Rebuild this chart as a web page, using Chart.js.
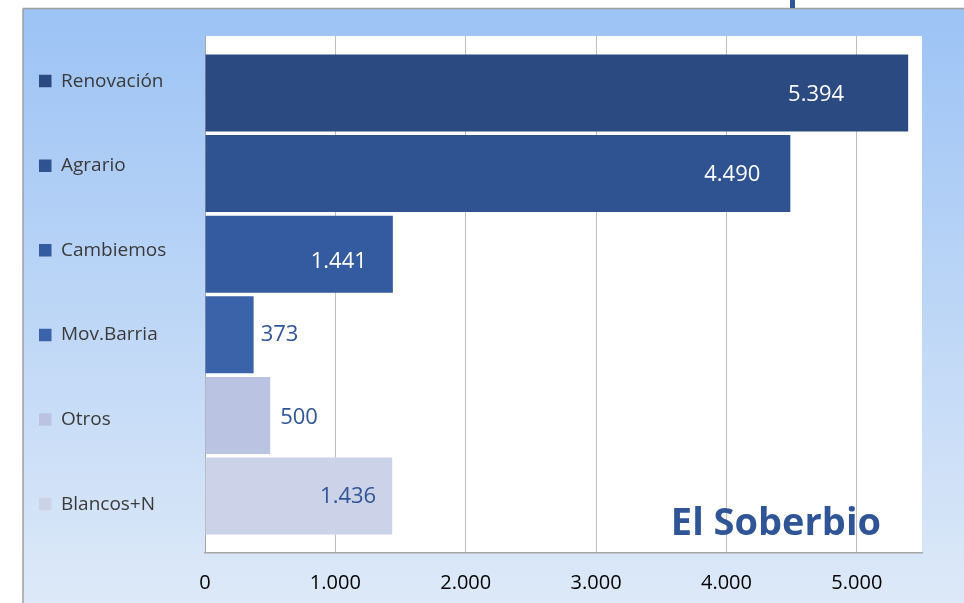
<!DOCTYPE html>
<html><head><meta charset="utf-8">
<script src="https://cdn.jsdelivr.net/npm/chart.js@4.4.1/dist/chart.umd.min.js"></script>
<style>html,body{margin:0;padding:0;background:#fff;overflow:hidden}#wrap{width:964px;height:603px;position:relative}</style>
</head><body><div id="wrap"><canvas id="c"></canvas></div>
<script>
// ---- data ----
const categories = ['Renovación', 'Agrario', 'Cambiemos', 'Mov.Barria', 'Otros', 'Blancos+N'];
const votes = [5394, 4490, 1441, 373, 500, 1436];
const xTickValues = [0, 1000, 2000, 3000, 4000, 5000];
const chartTitle = 'El Soberbio';

// ---- styles ----
const barColors = ['#2C4A82', '#2F5290', '#345B9F', '#3B63AA', '#BAC4E2', '#CCD3E8'];
const labelColors = ['#FFFFFF', '#FFFFFF', '#FFFFFF', '#2F5597', '#2F5597', '#2F5597'];
const labelShift = [-64, -30, -26, 7, 10, -16];
const labelDy = [2, 1, 8, 0, 2, 1];
const FONT = "'Open Sans', 'Noto Sans', sans-serif";
const PAD_LEFT = -26.6, PLOT_LEFT = 205;

const fmt = v => String(v).replace(/\B(?=(\d{3})+(?!\d))/g, '.');

const datasets = categories.map((c, i) => ({
  label: c,
  data: [{ x: votes[i], y: i }],
  backgroundColor: barColors[i],
  borderWidth: 0,
  grouped: false,
  barPercentage: 0.955,
  categoryPercentage: 1
}));

const bgPlugin = {
  id: 'bg',
  beforeDraw(chart) {
    const { ctx, width, height, chartArea: a } = chart;
    ctx.save();
    ctx.fillStyle = '#FFFFFF';
    ctx.fillRect(0, 0, width, height);
    const g = ctx.createLinearGradient(0, 9, 0, height);
    g.addColorStop(0, '#9CC3F5');
    g.addColorStop(1, '#DDE9F8');
    ctx.fillStyle = g;
    ctx.fillRect(23, 9, width - 23, height - 9);
    ctx.strokeStyle = '#9E9E9E';
    ctx.lineWidth = 1.5;
    ctx.beginPath();
    ctx.moveTo(23, 8.5); ctx.lineTo(width, 8.5);
    ctx.moveTo(23, 8.5); ctx.lineTo(23, height);
    ctx.stroke();
    ctx.fillStyle = '#2F5597';
    ctx.fillRect(790, 0, 5, 8);
    ctx.fillStyle = '#FFFFFF';
    ctx.fillRect(a.left, a.top, a.right - a.left, a.bottom - a.top);
    ctx.restore();
  }
};

const labelPlugin = {
  id: 'barLabels',
  afterDatasetsDraw(chart) {
    const { ctx, chartArea: a } = chart;
    ctx.save();
    ctx.font = '22px ' + FONT;
    ctx.textBaseline = 'middle';
    chart.data.datasets.forEach((ds, i) => {
      const el = chart.getDatasetMeta(i).data[0];
      if (!el) return;
      const s = labelShift[i];
      ctx.textAlign = s < 0 ? 'right' : 'left';
      ctx.fillStyle = labelColors[i];
      ctx.fillText(fmt(ds.data[0].x), el.x + s, el.y + labelDy[i]);
    });
    ctx.font = 'bold 38px ' + FONT;
    ctx.textAlign = 'right';
    ctx.textBaseline = 'alphabetic';
    ctx.fillStyle = '#2F5597';
    ctx.fillText(chartTitle, a.right - 41, a.bottom - 18);
    ctx.restore();
  }
};

new Chart(document.getElementById('c'), {
  type: 'bar',
  data: { datasets },
  plugins: [bgPlugin, labelPlugin],
  options: {
    indexAxis: 'y',
    responsive: true,
    maintainAspectRatio: false,
    animation: false,
    layout: { padding: { left: PAD_LEFT, right: 42, top: 6, bottom: 0 } },
    plugins: {
      tooltip: { enabled: false },
      legend: {
        position: 'left',
        align: 'start',
        labels: {
          boxWidth: 12.5,
          boxHeight: 12.5,
          padding: 65.6,
          color: '#3A3A3A',
          font: { family: FONT, size: 19 }
        }
      }
    },
    scales: {
      x: {
        type: 'linear',
        position: 'bottom',
        min: 0,
        max: 5500,
        offset: false,
        afterBuildTicks: s => { s.ticks = xTickValues.map(v => ({ value: v })); },
        afterFit: s => { s.height = 50; },
        grid: {
          offset: false,
          color: c => (c.tick && c.tick.value === 0) ? '#A6A6A6' : '#BFBFBF',
          lineWidth: 1,
          drawTicks: false
        },
        border: { display: true, color: '#A6A6A6', width: 1.5 },
        ticks: {
          padding: 18,
          color: '#000000',
          font: { family: FONT, size: 20 },
          maxRotation: 0,
          callback: v => fmt(v)
        }
      },
      xTop: {
        type: 'linear',
        position: 'top',
        display: true,
        grid: { display: false },
        border: { display: false },
        ticks: { display: false },
        afterFit: s => { s.height = 30; }
      },
      y: {
        type: 'linear',
        position: 'left',
        reverse: true,
        offset: false,
        min: -0.707,
        max: categories.length - 1 + 0.707,
        display: true,
        afterBuildTicks: s => { s.ticks = categories.map((c, i) => ({ value: i })); },
        grid: { display: false, offset: false },
        border: { display: false },
        ticks: { display: false },
        afterFit: s => { s.width = Math.max(0, PLOT_LEFT - (PAD_LEFT + s.chart.legend.width)); }
      }
    }
  }
});
</script>
</body></html>
